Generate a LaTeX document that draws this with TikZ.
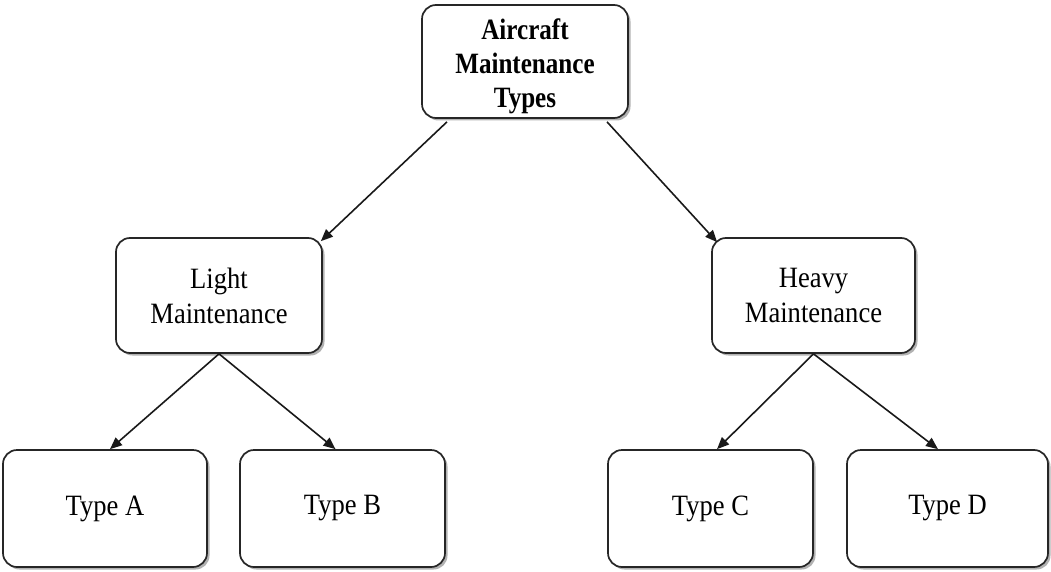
\documentclass[tikz,border=0pt]{standalone}
\usepackage{fontspec}
\newfontfamily\tnr[FakeStretch=0.9]{Liberation Serif}
\newfontfamily\tnrb[FakeStretch=0.85]{Liberation Serif Bold}
\usetikzlibrary{arrows.meta,shadows}
\begin{document}
\begin{tikzpicture}[x=1pt,y=-1pt,
  box/.style={draw=black!85, line width=1.7pt, rounded corners=14pt, fill=white,
    align=center, inner sep=0pt,
    font=\tnr\fontsize{29.5}{35}\selectfont,
    drop shadow={shadow xshift=2.5pt, shadow yshift=-2.5pt, opacity=0.5, fill=black!60}},
  conn/.style={draw=black!90, line width=1.6pt, -{Triangle[length=12pt,width=10pt]}}]
\useasboundingbox (0,0) rectangle (1051,572);
\node[box, minimum width=206pt, minimum height=113pt, font=\tnrb\fontsize{29.5}{34}\selectfont] (root) at (525,61.5)
  {\raisebox{-5pt}[\height][\depth]{\begin{tabular}{@{}c@{}}Aircraft\\Maintenance\\Types\end{tabular}}};
\node[box, minimum width=206pt, minimum height=115pt] (light) at (219,295.5) {Light\\Maintenance};
\node[box, minimum width=203pt, minimum height=115pt] (heavy) at (813.5,295.5) {Heavy\\Maintenance};
\node[box, minimum width=204pt, minimum height=117pt] (ta) at (105,508.5) {Type A};
\node[box, minimum width=205pt, minimum height=117pt] (tb) at (342.5,508.5) {Type B};
\node[box, minimum width=205pt, minimum height=117pt] (tc) at (710.5,508.5) {Type C};
\node[box, minimum width=201pt, minimum height=117pt] (td) at (947.5,508.5) {Type D};
\draw[conn] ([xshift=-78pt,yshift=-3pt]root.south) -- ([xshift=-2pt,yshift=-4pt]light.north east);
\draw[conn] ([xshift=82pt,yshift=-3pt]root.south) -- ([xshift=6pt,yshift=-5pt]heavy.north west);
\draw[conn] (light.south) -- ([xshift=5pt]ta.north);
\draw[conn] (light.south) -- ([xshift=-7pt]tb.north);
\draw[conn] (heavy.south) -- ([xshift=6.5pt]tc.north);
\draw[conn] (heavy.south) -- ([xshift=-9.5pt]td.north);
\end{tikzpicture}
\end{document}
